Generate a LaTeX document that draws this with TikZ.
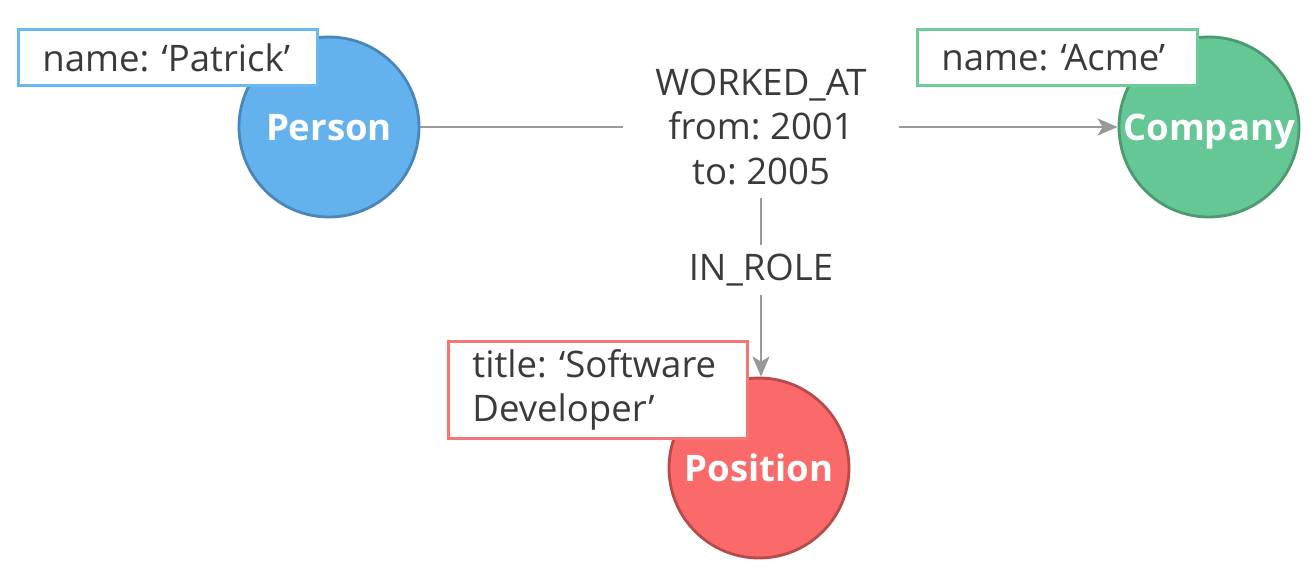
\documentclass[tikz,border=0pt]{standalone}
\usepackage{fontspec}
\setmainfont{Open Sans}
\usepackage{tikz}
\usetikzlibrary{arrows.meta}
\frenchspacing

\definecolor{txt}{HTML}{3A3A3A}
\definecolor{edge}{HTML}{999999}
\definecolor{personfill}{HTML}{63B2EE}
\definecolor{persondraw}{HTML}{4A86B8}
\definecolor{companyfill}{HTML}{66C796}
\definecolor{companydraw}{HTML}{4C9A6F}
\definecolor{positionfill}{HTML}{FA6A6A}
\definecolor{positiondraw}{HTML}{B84A4A}
\definecolor{personbox}{HTML}{6AB8F2}
\definecolor{companybox}{HTML}{6DCB9B}
\definecolor{positionbox}{HTML}{F57575}

\begin{document}
\begin{tikzpicture}[
  font=\fontsize{10.4pt}{12.7pt}\selectfont,
  entity/.style={circle, minimum size=1.8cm, inner sep=0pt, line width=0.8pt,
    text height=7.4pt, text depth=0pt,
    text=white, font=\fontsize{10.4pt}{12.7pt}\selectfont\bfseries},
  prop/.style={draw, fill=white, line width=0.8pt, anchor=north west, align=left,
    text=txt, inner xsep=0.24cm, inner ysep=0pt},
  rel/.style={text=txt, align=center, inner xsep=0.32cm, inner ysep=0.12cm},
  link/.style={draw=edge, line width=0.75pt},
  tip/.style={-{Stealth[length=0.2cm, width=0.17cm, inset=0.05cm]}}
]
 \useasboundingbox (0,0) rectangle (13.14,-5.86);

 \node[entity, fill=personfill, draw=persondraw] (Person) at(3.29,-1.27) {Person};
 \node[entity, fill=companyfill, draw=companydraw] (Company) at(12.09,-1.27) {Company};
 \node[entity, fill=positionfill, draw=positiondraw] (Position) at(7.59,-4.68) {Position};

 \node[rel] (WA) at(7.61,-1.27) {WORKED\_AT\\from: 2001\\to: 2005};
 \node[rel, inner ysep=0.08cm] (IR) at(7.61,-2.70) {IN\_ROLE};

 \draw[link] (Person) -- (WA);
 \draw[link, tip] (WA) -- (Company);
 \draw[link] (WA) -- (IR);
 \draw[link, tip] (IR) -- (Position.north -| IR);

 \node[prop, draw=personbox, text width=2.51cm, minimum height=0.56cm] (PersonProps) at(0.17,-0.28) {name:~‘Patrick’};
 \node[prop, draw=companybox, text width=2.32cm, minimum height=0.56cm] (CompanyProps) at(9.16,-0.28) {name:~‘Acme’};
 \node[prop, draw=positionbox, text width=2.51cm, minimum height=0.97cm] (PositionProps) at(4.47,-3.40) {title:~‘Software\\Developer’};

\end{tikzpicture}
\end{document}
